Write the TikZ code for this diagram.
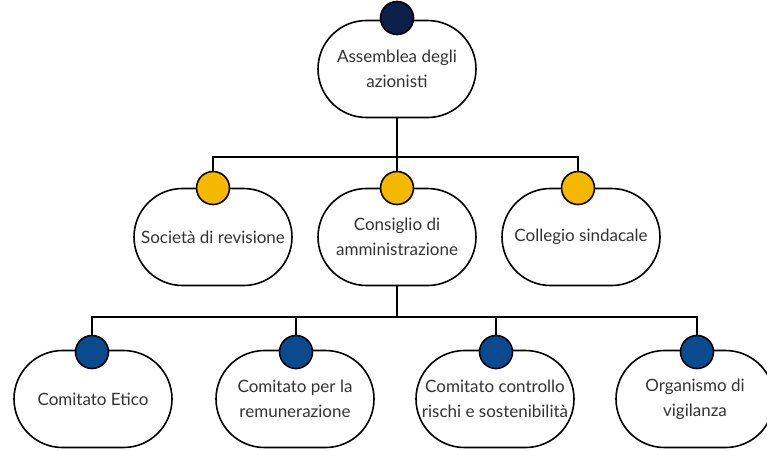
\documentclass[tikz,border=0pt]{standalone}
\usepackage{fontspec}
\setmainfont{Lato}
\usetikzlibrary{positioning, shapes.misc}
\definecolor{navy}{HTML}{0C1F4A}
\definecolor{gold}{HTML}{F5B800}
\definecolor{royal}{HTML}{0B4A8F}
\tikzset{x=1pt, y=-1pt, % one unit is one pixel of the layout
every node/.style={font=\fontsize{17}{25}\selectfont\color{black!80}},
orgbox/.style={ % Sets the properties for each organ
rounded rectangle, draw=black, line width=1.6pt, fill=white,
minimum width=160pt, minimum height=97pt,
align=center, inner sep=1pt},
dot/.style={ % Coloured knob on top of each box
circle, draw=black, line width=1.6pt, minimum size=33pt, inner sep=0pt},
link/.style={draw=black, line width=1.6pt}}

\begin{document}
\begin{tikzpicture}
    \useasboundingbox (0,0) rectangle (767,450);
    \begin{scope}
    \clip (0,0) rectangle (767,450);

    % top level
    \node[orgbox] (assem) at (397,69) {Assemblea degli\\azionisti};

    % second level
    \node[orgbox] (soc) at (213,237) {Società di revisione};
    \node[orgbox] (cons) at (397,237) {Consiglio di\\amministrazione};
    \node[orgbox] (coll) at (581,237) {Collegio sindacale};

    % third level
    \node[orgbox] (etico) at (93,399) {Comitato Etico};
    \node[orgbox] (remu) at (295,399) {Comitato per la\\remunerazione};
    \node[orgbox] (risk) at (495,399) {Comitato controllo\\rischi e sostenibilità};
    \node[orgbox] (vigil) at (695,399) {Organismo di\\vigilanza};

    % connectors
    \coordinate (bar1) at (397,157);
    \coordinate (bar2) at (397,317);
    \draw[link] (assem.south) -- (bar1);
    \draw[link] (213,188) |- (bar1) -| (578,188);
    \draw[link] (bar1) -- (397,188);
    \draw[link] (cons.south) -- (bar2);
    \draw[link] (92,352) |- (bar2) -| (697,352);
    \draw[link] (296,352) |- (bar2);
    \draw[link] (496,352) |- (bar2);

    % knobs
    \node[dot, fill=navy] (assem-dot) at (397,18) {};
    \node[dot, fill=gold] (soc-dot) at (213,188) {};
    \node[dot, fill=gold] (cons-dot) at (397,188) {};
    \node[dot, fill=gold] (coll-dot) at (578,188) {};
    \node[dot, fill=royal] (etico-dot) at (92,352) {};
    \node[dot, fill=royal] (remu-dot) at (296,352) {};
    \node[dot, fill=royal] (risk-dot) at (496,352) {};
    \node[dot, fill=royal] (vigil-dot) at (697,352) {};
    \end{scope}
\end{tikzpicture}
\end{document}
